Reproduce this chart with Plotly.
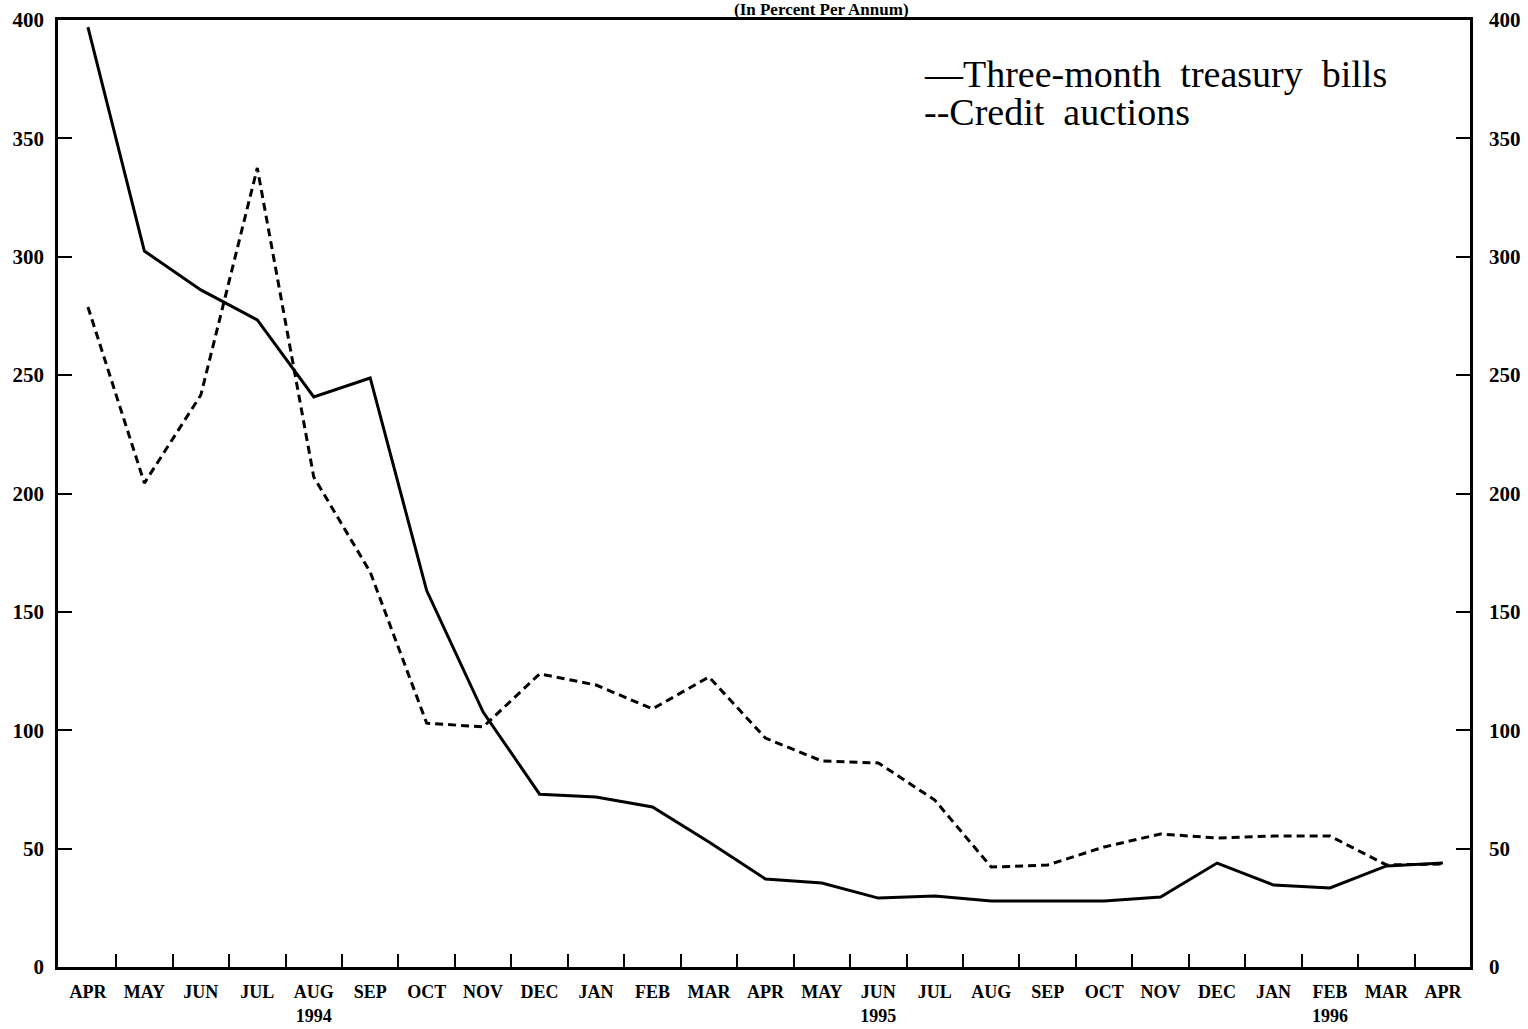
import plotly.graph_objects as go

months = ["APR", "MAY", "JUN", "JUL", "AUG<br>1994", "SEP", "OCT", "NOV", "DEC", "JAN", "FEB", "MAR",
          "APR", "MAY", "JUN<br>1995", "JUL", "AUG", "SEP", "OCT", "NOV", "DEC", "JAN", "FEB<br>1996", "MAR", "APR"]
x_idx = list(range(len(months)))
boundaries = [i + 0.5 for i in x_idx[:-1]]

treasury_bills = [397, 302.4, 286, 273.3, 240.8, 248.8, 159, 107.7, 73, 71.8, 67.6, 52.8,
                  37.2, 35.5, 29.1, 30, 27.9, 27.9, 27.9, 29.6, 43.9, 34.6, 33.4, 42.7, 43.9]
credit_auctions = [278.8, 204.4, 241.6, 337.5, 207, 166.8, 103, 101.4, 123.8, 119.1, 109, 122.5,
                   96.7, 87, 86.2, 70.5, 42.2, 43.1, 50.7, 56.2, 54.5, 55.3, 55.3, 43.1, 43.5]

y_ticks = [0, 50, 100, 150, 200, 250, 300, 350, 400]

SERIF = "Liberation Serif"
ytick_font = dict(family=SERIF, size=21, color="black", weight="bold")
xtick_font = dict(family=SERIF, size=18, color="black", weight="bold")

fig = go.Figure()
fig.add_trace(go.Scatter(x=x_idx, y=treasury_bills, mode="lines", name="Three-month treasury bills",
                         line=dict(color="black", width=3), showlegend=False))
fig.add_trace(go.Scatter(x=x_idx, y=credit_auctions, mode="lines", name="Credit auctions",
                         line=dict(color="black", width=3, dash="8px,5px"), showlegend=False))

fig.update_layout(
    width=1528, height=1029,
    margin=dict(l=58, r=58, t=20, b=62, autoexpand=False),
    paper_bgcolor="white", plot_bgcolor="white",
    xaxis=dict(range=[-0.53, 24.48], tickmode="array", tickvals=x_idx, ticktext=months,
               ticks="", showgrid=False, zeroline=False, ticklabelstandoff=7, automargin=False,
               showline=True, linecolor="black", linewidth=2.5, mirror=True,
               tickfont=xtick_font,
               minor=dict(tickmode="array", tickvals=boundaries, ticks="inside", ticklen=13,
                          tickwidth=2, tickcolor="black", showgrid=False)),
    yaxis=dict(range=[0, 400], tickmode="array", tickvals=y_ticks, ticks="inside", ticklen=14,
               tickwidth=2, tickcolor="black", showgrid=False, zeroline=False, automargin=False,
               showline=True, linecolor="black", linewidth=2.5, mirror=True,
               ticklabelstandoff=7, tickfont=ytick_font),
    yaxis2=dict(range=[0, 400], overlaying="y", side="right", tickmode="array", tickvals=y_ticks,
                ticks="inside", ticklen=14, tickwidth=2, tickcolor="black", showgrid=False,
                zeroline=False, showline=True, linecolor="black", linewidth=2.5, automargin=False,
                ticklabelstandoff=12, tickfont=ytick_font),
)
# invisible trace to activate the right axis
fig.add_trace(go.Scatter(x=[x_idx[0]], y=[0], yaxis="y2", mode="lines", line=dict(width=0),
                         hoverinfo="skip", showlegend=False))

fig.add_annotation(text="(In Percent Per Annum)", xref="paper", yref="paper", x=0.541, y=1.0106,
                   xanchor="center", yanchor="middle", showarrow=False, borderpad=0,
                   font=dict(family=SERIF, size=17, color="black", weight="bold"))
fig.add_annotation(text="\u2014Three-month  treasury  bills", xref="paper", yref="paper", x=0.612, y=0.943,
                   xanchor="left", yanchor="middle", showarrow=False,
                   font=dict(family=SERIF, size=38, color="black"))
fig.add_annotation(text="--Credit  auctions", xref="paper", yref="paper", x=0.612, y=0.9027,
                   xanchor="left", yanchor="middle", showarrow=False,
                   font=dict(family=SERIF, size=38, color="black"))

fig.write_html("out.html", config={"displayModeBar": False},
               post_script="document.body.style.margin='0';")
